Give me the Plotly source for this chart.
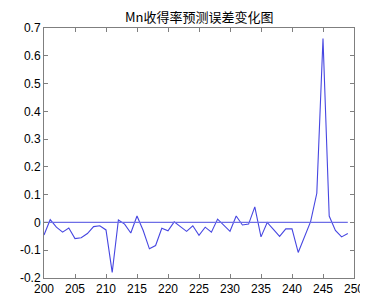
import plotly.graph_objects as go

x_vals = list(range(200, 250))
errors = [-0.045, 0.010, -0.017, -0.035, -0.020, -0.058, -0.055, -0.040, -0.015, -0.012,
          -0.027, -0.180, 0.009, -0.006, -0.038, 0.023, -0.029, -0.095, -0.083, -0.021,
          -0.030, 0.002, -0.015, -0.032, -0.012, -0.046, -0.017, -0.035, 0.012, -0.009,
          -0.032, 0.023, -0.009, -0.006, 0.056, -0.052, 0.000, -0.025, -0.050, -0.023,
          -0.023, -0.108, -0.052, 0.003, 0.105, 0.662, 0.023, -0.029, -0.052, -0.040]
zero_ref = [0.0] * len(x_vals)

x_ticks = list(range(200, 251, 5))
y_ticks = [-0.2, -0.1, 0, 0.1, 0.2, 0.3, 0.4, 0.5, 0.6, 0.7]
y_tick_text = ["-0.2", "-0.1", "0", "0.1", "0.2", "0.3", "0.4", "0.5", "0.6", "0.7"]
title_text = "Mn收得率预测误差变化图"

fig = go.Figure()
fig.add_trace(go.Scatter(x=x_vals, y=errors, mode="lines",
                         line=dict(color="rgb(70,70,225)", width=1.1), showlegend=False))
fig.add_trace(go.Scatter(x=x_vals, y=zero_ref, mode="lines",
                         line=dict(color="rgb(110,110,230)", width=1.3), showlegend=False))

axis_common = dict(showline=True, linecolor="#7f7f7f", linewidth=1, mirror="ticks",
                   ticks="inside", ticklen=4, tickcolor="#7f7f7f", showgrid=False,
                   zeroline=False, tickfont=dict(family="Liberation Sans, Arial", size=12, color="black"))

fig.update_layout(
    width=368, height=300,
    margin=dict(l=28, r=12, t=20, b=23),
    paper_bgcolor="white", plot_bgcolor="white",
    xaxis=dict(range=[200, 250], tickvals=x_ticks, **axis_common),
    yaxis=dict(range=[-0.2, 0.7], tickvals=y_ticks, ticktext=y_tick_text, **axis_common),
    annotations=[dict(text=title_text, xref="paper", yref="paper", x=0.5, y=1,
                      xanchor="center", yanchor="bottom", showarrow=False, yshift=0,
                      font=dict(family="Noto Sans CJK SC, Liberation Sans", size=13, color="black"))],
)

fig.write_html("out.html")
